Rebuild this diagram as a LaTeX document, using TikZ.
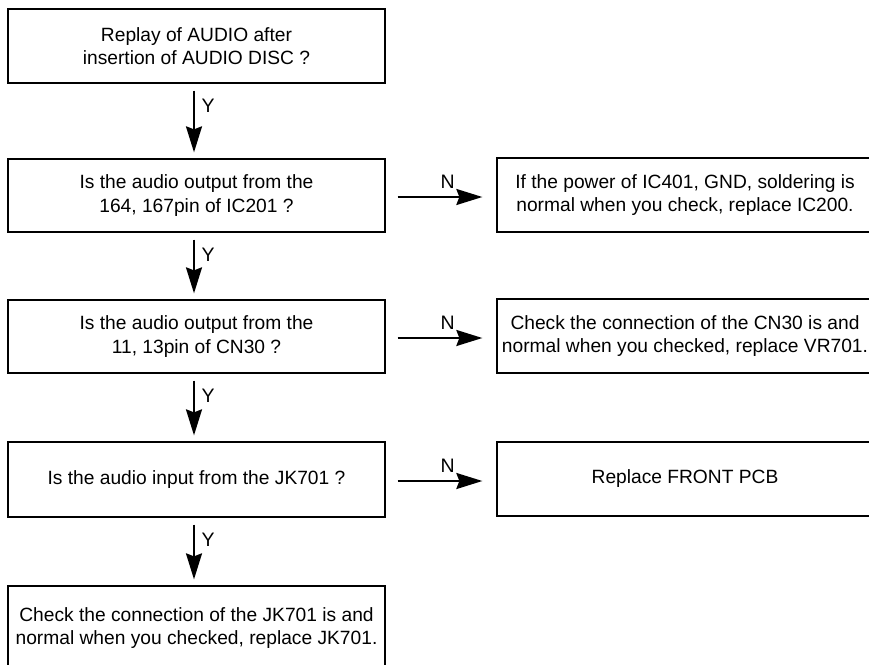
\documentclass[tikz,border=0pt]{standalone}
\usepackage{fontspec}
\setmainfont{Liberation Sans}
\usetikzlibrary{arrows.meta}
\begin{document}
\begin{tikzpicture}[x=1pt,y=-1pt,
  box/.style={draw=black, line width=1.3pt, rectangle, inner sep=0pt,
    align=center, font=\fontsize{19.2}{23.5}\selectfont},
  leftbox/.style={box, minimum width=377pt},
  rightbox/.style={box, minimum width=376pt},
  arr/.style={line width=2pt, -{Stealth[length=26pt,width=16pt,inset=3pt]}},
  lbl/.style={font=\fontsize{19.5}{23.5}\selectfont, inner sep=0pt}]
\useasboundingbox (0,0) rectangle (869,664);
\clip (0,0) rectangle (869,664);

% decision chain on the left
\node[leftbox, minimum height=74pt] (b1) at (196.5,46)
  {Replay of AUDIO after\\insertion of AUDIO DISC ?};
\node[leftbox, minimum height=73pt] (b2) at (196.5,195.5)
  {Is the audio output from the\\164, 167pin of IC201 ?};
\node[leftbox, minimum height=73pt] (b3) at (196.5,336.5)
  {Is the audio output from the\\11, 13pin of CN30 ?};
\node[leftbox, minimum height=75pt] (b4) at (196.5,479.5)
  {Is the audio input from the JK701 ?};
\node[leftbox, minimum height=80pt, text depth=0pt] (b5) at (196.5,626)
  {Check the connection of the JK701 is and\\normal when you checked, replace JK701.};

% actions on the right
\node[rightbox, minimum height=74pt] (r1) at (685,195)
  {If the power of IC401, GND, soldering is\\normal when you check, replace IC200.};
\node[rightbox, minimum height=74pt] (r2) at (685,336)
  {Check the connection of the CN30 is and\\normal when you checked, replace VR701.};
\node[rightbox, minimum height=74pt] (r3) at (685,479)
  {Replace FRONT PCB};

% "yes" arrows going down
\foreach \a/\b in {b1/b2, b2/b3, b3/b4, b4/b5}{
  \draw[arr, shorten <=7pt, shorten >=6pt]
    ([xshift=-2.5pt]\a.south) -- ([xshift=-2.5pt]\b.north);
  \node[lbl] at ([xshift=11.5pt, yshift=-22pt]\a.south) {Y};
}

% "no" arrows going right
\foreach \a/\b in {b2/r1, b3/r2, b4/r3}{
  \draw[arr, shorten <=12pt, shorten >=14pt]
    ([yshift=-1.5pt]\a.east) -- ([yshift=-1.5pt]\a.east -| \b.west);
  \node[lbl] at ([xshift=62pt, yshift=14pt]\a.east) {N};
}
\end{tikzpicture}
\end{document}
